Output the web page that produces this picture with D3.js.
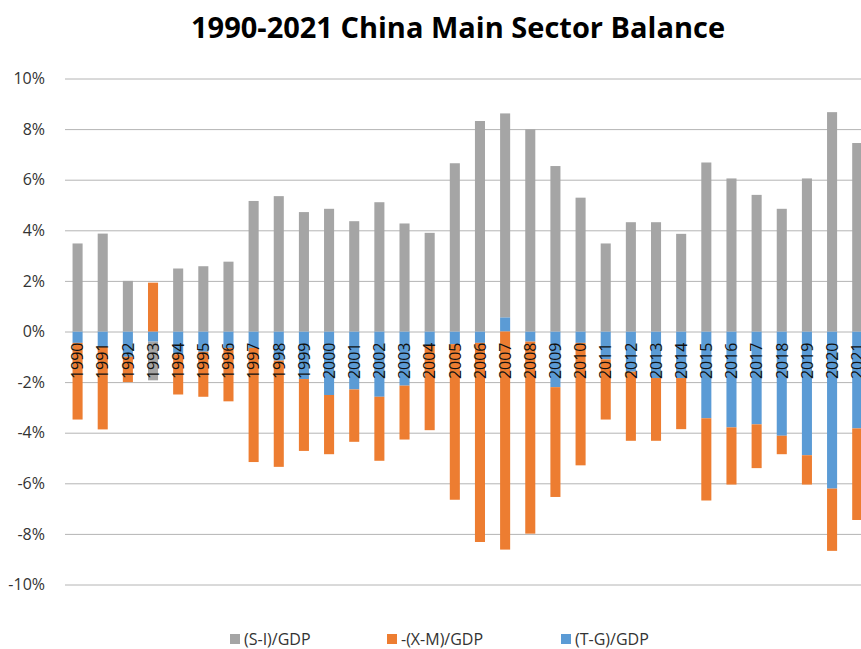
<!DOCTYPE html>
<html>
<head>
<meta charset="utf-8">
<script src="https://cdn.jsdelivr.net/npm/d3@7"></script>
<style>
  html, body { margin: 0; padding: 0; background: #fff; }
  svg { display: block; }
  text { font-family: "Open Sans", "Noto Sans", sans-serif; }
</style>
</head>
<body>
<svg id="chart" width="861" height="649"></svg>
<script>
// ---- data (percent of GDP) ----
const years = ["1990","1991","1992","1993","1994","1995","1996","1997","1998","1999",
  "2000","2001","2002","2003","2004","2005","2006","2007","2008","2009",
  "2010","2011","2012","2013","2014","2015","2016","2017","2018","2019","2020","2021"];
// (S-I)/GDP
const siGDP = [3.48, 3.87, 2.00, -1.53, 2.49, 2.58, 2.76, 5.16, 5.35, 4.72,
  4.85, 4.36, 5.11, 4.27, 3.90, 6.65, 8.32, 8.06, 7.99, 6.54,
  5.29, 3.48, 4.32, 4.32, 3.86, 6.68, 6.05, 5.40, 4.85, 6.05, 8.67, 7.45];
// (T-G)/GDP
const tgGDP = [-0.45, -0.60, -1.00, -0.40, -0.90, -0.80, -0.65, -0.65, -1.15, -1.88,
  -2.51, -2.29, -2.58, -2.14, -0.55, -0.50, -0.45, 0.56, -0.40, -2.20,
  -0.45, -1.10, -1.59, -1.84, -1.84, -3.43, -3.79, -3.67, -4.12, -4.89, -6.21, -3.83];
// -(X-M)/GDP
const xmGDP = [-3.03, -3.27, -1.00, 1.93, -1.59, -1.78, -2.11, -4.51, -4.20, -2.84,
  -2.34, -2.07, -2.53, -2.13, -3.35, -6.15, -7.87, -8.62, -7.59, -4.34,
  -4.84, -2.38, -2.73, -2.48, -2.02, -3.25, -2.26, -1.73, -0.73, -1.16, -2.46, -3.62];
const yTicks = [-10, -8, -6, -4, -2, 0, 2, 4, 6, 8, 10];
const seriesNames = ["(S-I)/GDP", "-(X-M)/GDP", "(T-G)/GDP"];
const seriesColors = ["#A5A5A5", "#ED7D31", "#5B9BD5"];

// ---- build table ----
const rows = years.map((y, i) => ({ year: y, si: siGDP[i], xm: xmGDP[i], tg: tgGDP[i] }));
// stacking order: blue closest to axis, then orange, then gray
const stackKeys = ["tg", "xm", "si"];
const keyColor = { si: seriesColors[0], xm: seriesColors[1], tg: seriesColors[2] };
const stacked = d3.stack().keys(stackKeys).offset(d3.stackOffsetDiverging)(rows);

const svg = d3.select("#chart");
const plotLeft = 65, step = 25.15;
const x = d3.scaleBand().domain(years)
  .range([plotLeft, plotLeft + step * years.length])
  .paddingInner(0.6).paddingOuter(0.3);
const y = d3.scaleLinear().domain([-10, 10]).range([584.5, 78.5]);

// title
svg.append("text")
  .attr("x", 458).attr("y", 38)
  .attr("text-anchor", "middle")
  .attr("font-size", 29).attr("font-weight", "bold").attr("fill", "#000")
  .text("1990-2021 China Main Sector Balance");

// gridlines + y axis labels
const yAxis = d3.axisLeft(y).tickValues(yTicks)
  .tickSize(-(900 - plotLeft)).tickPadding(20)
  .tickFormat(d => d + "%");
const gy = svg.append("g").attr("transform", `translate(${plotLeft},0)`).call(yAxis);
gy.select(".domain").remove();
gy.selectAll(".tick line").attr("stroke", "#b4b4b4").attr("stroke-width", 1);
gy.selectAll(".tick text").attr("font-size", 16).attr("fill", "#333")
  .attr("font-family", "'Open Sans', sans-serif");

// bars
svg.append("g").selectAll("g").data(stacked).join("g")
  .attr("fill", d => keyColor[d.key])
  .selectAll("rect").data(d => d).join("rect")
  .attr("x", d => x(d.data.year))
  .attr("width", x.bandwidth())
  .attr("y", d => y(Math.max(d[0], d[1])))
  .attr("height", d => Math.abs(y(d[0]) - y(d[1])));

// category labels (rotated, just below zero line)
svg.append("g").selectAll("text").data(years).join("text")
  .attr("transform", d => `translate(${x(d) + x.bandwidth() / 2},${y(0) + 11}) rotate(-90)`)
  .attr("text-anchor", "end")
  .attr("dy", "0.36em")
  .attr("font-size", 16).attr("fill", "#111")
  .text(d => d);

// legend
const legendX = [230, 387, 561];
const lg = svg.append("g").selectAll("g").data(seriesNames).join("g")
  .attr("transform", (d, i) => `translate(${legendX[i]},639)`);
lg.append("rect").attr("x", 0).attr("y", -5).attr("width", 10).attr("height", 10)
  .attr("fill", (d, i) => seriesColors[i]);
lg.append("text").attr("x", 14).attr("y", 0).attr("dy", "0.36em")
  .attr("font-size", 16).attr("fill", "#333").text(d => d);
</script>
</body>
</html>
